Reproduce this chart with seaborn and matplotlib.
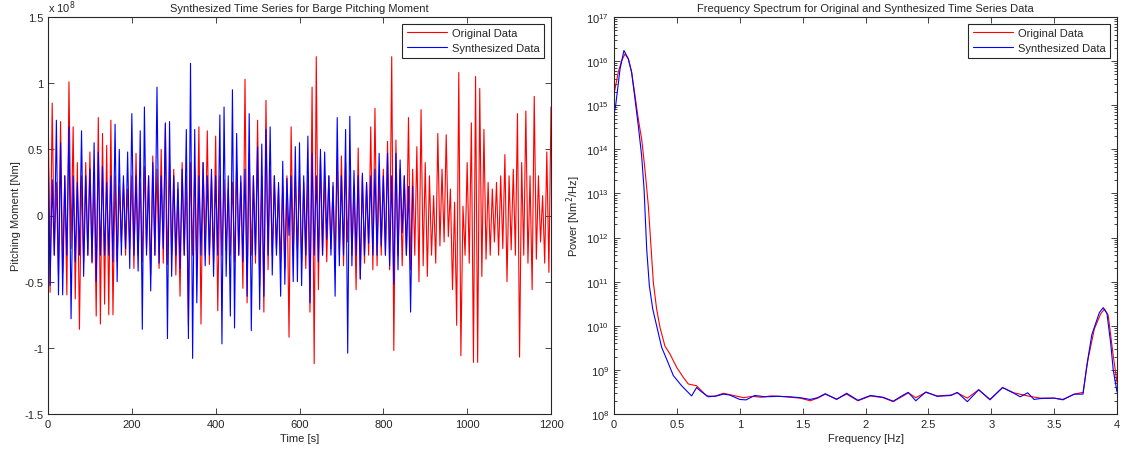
import numpy as np
import pandas as pd
import matplotlib
matplotlib.use("Agg")
import matplotlib.pyplot as plt
import matplotlib.ticker as mticker
import seaborn as sns

# Pitching moment extrema [x 1e8 Nm], one every 5 s
original_moment = [
    0.94, -0.58, 0.85, -0.3, 0.25, -0.45, 0.71, -0.43, 0.3, -0.6, 1.01, -0.25, 0.67, -0.63, 0.4, -0.86, 0.3, -0.35, 0.4, -0.3,
    0.48, -0.36, 0.3, -0.76, 0.74, -0.82, 0.62, -0.67, 0.53, -0.75, 0.72, -0.75, 0.3, -0.35, 0.22, -0.2, 0.25, -0.3, 0.2, -0.25,
    0.3, -0.4, 0.47, -0.3, 0.25, -0.35, 0.37, -0.25, 0.3, -0.45, 0.45, -0.3, 0.35, -0.4, 0.5, -0.36, 0.69, -0.37, 0.4, -0.3,
    0.35, -0.45, 0.2, -0.61, 0.4, -0.3, 0.3, -0.83, 0.4, -0.3, 0.35, -0.4, 0.67, -0.82, 0.4, -0.3, 0.64, -0.37, 0.3, -0.35,
    0.6, -0.72, 0.3, -0.3, 0.27, -0.26, 0.2, -0.3, 0.25, -0.35, 0.37, -0.3, 0.25, -0.55, 1.03, -0.66, 0.47, -0.3, 0.3, -0.36,
    0.72, -0.53, 0.3, -0.73, 0.87, -0.41, 0.35, -0.3, 0.3, -0.25, 0.22, -0.35, 0.22, -0.4, 0.3, -0.92, 0.67, -0.3, 0.3, -0.26,
    0.3, -0.35, 0.25, -0.4, 0.3, -0.73, 0.97, -1.12, 1.2, -0.56, 0.44, -0.3, 0.3, -0.35, 0.3, -0.25, 0.22, -0.33, 0.42, -0.3,
    0.45, -0.38, 0.4, -0.2, 0.3, -0.3, 0.22, -0.56, 0.51, -0.48, 0.3, -0.36, 0.25, -0.3, 0.67, -0.41, 0.81, -0.38, 0.3, -0.3,
    0.35, -0.3, 0.56, -0.41, 1.2, -1.02, 0.57, -0.3, 0.35, -0.38, 0.3, -0.3, 0.74, -0.41, 0.35, -0.3, 0.52, -0.5, 0.8, -0.38,
    0.4, -0.46, 0.3, -0.3, 0.15, -0.36, 0.62, -0.23, 0.35, -0.2, 0.61, -0.16, 0.2, -0.56, 0.1, -0.83, 1.08, -1.06, 0.07, -0.3,
    0.4, -0.36, 0.7, -1.11, 1.05, -1.11, 0.96, -0.46, 0.65, -0.33, 0.25, -0.3, 0.2, -0.2, 0.25, -0.3, 0.3, -0.25, 0.46, -0.5,
    0.3, -0.26, 0.35, -0.3, 0.77, -1.07, 0.4, -0.3, 0.79, -0.36, 0.3, -0.56, 0.9, -0.33, 0.3, -0.2, 0.15, -0.36, 0.48, -0.43,
    0.82,
]
synth_moment = [
    0.6, -0.53, 0.27, -0.3, 0.72, -0.6, 0.55, -0.6, 0.3, -0.3, 0.67, -0.78, 0.3, -0.35, 0.25, -0.3, 0.64, -0.46, 0.3, -0.3,
    0.35, -0.35, 0.55, -0.5, 0.48, -0.3, 0.37, -0.3, 0.25, -0.3, 0.3, -0.35, 0.69, -0.5, 0.5, -0.3, 0.3, -0.25, 0.48, -0.4,
    0.77, -0.3, 0.3, -0.42, 0.64, -0.86, 0.82, -0.3, 0.3, -0.57, 0.4, -0.3, 0.97, -0.36, 0.3, -0.25, 0.7, -0.93, 0.71, -0.46,
    0.3, -0.3, 0.25, -0.4, 0.35, -0.3, 0.65, -0.93, 1.15, -1.08, 0.65, -0.66, 0.3, -0.3, 0.4, -0.38, 0.3, -0.3, 0.35, -0.46,
    0.3, -0.3, 0.76, -0.97, 0.82, -0.46, 0.3, -0.76, 0.95, -0.85, 0.62, -0.3, 0.3, -0.35, 0.35, -0.61, 0.77, -0.87, 0.3, -0.3,
    0.52, -0.71, 0.54, -0.61, 0.65, -0.3, 0.67, -0.45, 0.3, -0.3, 0.25, -0.61, 0.41, -0.52, 0.28, -0.15, 0.3, -0.5, 0.52, -0.5,
    0.55, -0.53, 0.3, -0.3, 0.6, -0.66, 0.47, -0.3, 0.3, -0.35, 0.5, -0.3, 0.48, -0.18, 0.3, -0.3, 0.25, -0.61, 0.74, -0.38,
    0.3, -0.3, 0.65, -1.04, 0.75, -0.38, 0.34, -0.3, 0.3, -0.48, 0.32, -0.3, 0.25, -0.21, 0.3, -0.3, 0.35, -0.3, 0.47, -0.23,
    0.3, -0.3, 0.47, -0.38, 0.3, -0.52, 0.47, -0.41, 0.42, -0.13, 0.3, -0.3, 0.22, -0.73, 0.22,
]
sample_step = 5.0  # seconds between extrema

# Power spectra: frequency [Hz] and log10 power [Nm^2/Hz]
orig_freq = [0.0, 0.034, 0.061, 0.087, 0.114, 0.14, 0.167, 0.193, 0.22, 0.246, 0.273, 0.292, 0.313, 0.339,
             0.366, 0.405, 0.445, 0.498, 0.551, 0.591, 0.657, 0.684, 0.737, 0.80, 0.87, 0.95, 1.03, 1.10,
             1.17, 1.25, 1.33, 1.40, 1.48, 1.56, 1.62, 1.68, 1.77, 1.85, 1.94, 2.04, 2.14, 2.22, 2.30, 2.34,
             2.40, 2.48, 2.57, 2.68, 2.73, 2.81, 2.90, 2.99, 3.09, 3.18, 3.29, 3.39, 3.50, 3.57, 3.66, 3.73,
             3.77, 3.82, 3.87, 3.90, 3.93, 3.97, 4.0]
orig_logpow = [15.25, 15.75, 16.01, 16.16, 16.05, 15.75, 15.22, 14.69, 14.23, 13.55, 12.72, 11.89, 10.98, 10.38,
               9.96, 9.54, 9.36, 9.06, 8.83, 8.68, 8.64, 8.56, 8.41, 8.40, 8.47, 8.42, 8.37, 8.40,
               8.38, 8.41, 8.40, 8.38, 8.36, 8.30, 8.36, 8.45, 8.34, 8.45, 8.30, 8.41, 8.37, 8.28, 8.41, 8.48,
               8.37, 8.49, 8.41, 8.43, 8.48, 8.36, 8.55, 8.32, 8.60, 8.48, 8.41, 8.36, 8.36, 8.32, 8.45, 8.49,
               9.25, 9.93, 10.27, 10.38, 10.24, 9.32, 8.72]
synth_freq = [0.0, 0.013, 0.048, 0.079, 0.114, 0.14, 0.167, 0.193, 0.22, 0.239, 0.26, 0.281, 0.308, 0.339,
              0.379, 0.419, 0.472, 0.538, 0.617, 0.657, 0.684, 0.75, 0.817, 0.87, 0.92, 1.0, 1.05, 1.12,
              1.2, 1.3, 1.4, 1.48, 1.56, 1.62, 1.68, 1.77, 1.85, 1.94, 2.04, 2.14, 2.22, 2.30, 2.34, 2.40,
              2.48, 2.57, 2.68, 2.73, 2.81, 2.90, 2.99, 3.09, 3.18, 3.23, 3.29, 3.34, 3.39, 3.50, 3.57, 3.66,
              3.73, 3.76, 3.80, 3.86, 3.89, 3.92, 3.95, 3.97, 4.0]
synth_logpow = [14.80, 14.99, 15.82, 16.24, 16.05, 15.75, 15.14, 14.54, 13.85, 13.10, 11.74, 10.91, 10.38, 10.0,
                9.51, 9.24, 8.87, 8.64, 8.41, 8.60, 8.53, 8.39, 8.41, 8.45, 8.43, 8.33, 8.32, 8.42,
                8.39, 8.40, 8.39, 8.37, 8.33, 8.37, 8.46, 8.33, 8.47, 8.31, 8.42, 8.38, 8.29, 8.43, 8.49, 8.30,
                8.50, 8.40, 8.42, 8.49, 8.28, 8.55, 8.33, 8.60, 8.47, 8.39, 8.48, 8.33, 8.35, 8.36, 8.33, 8.45,
                8.45, 9.10, 9.80, 10.30, 10.41, 10.28, 9.60, 9.00, 8.50]

ts = pd.concat([
    pd.DataFrame({"time": np.arange(len(original_moment)) * sample_step,
                  "moment": original_moment, "series": "Original Data"}),
    pd.DataFrame({"time": np.arange(len(synth_moment)) * sample_step,
                  "moment": synth_moment, "series": "Synthesized Data"}),
])
spec = pd.concat([
    pd.DataFrame({"freq": orig_freq, "power": 10.0 ** np.array(orig_logpow), "series": "Original Data"}),
    pd.DataFrame({"freq": synth_freq, "power": 10.0 ** np.array(synth_logpow), "series": "Synthesized Data"}),
])

sns.set_style("ticks")
plt.rcParams["font.family"] = ["Liberation Sans", "DejaVu Sans"]
plt.rcParams["font.size"] = 8
plt.rcParams["xtick.direction"] = "in"
plt.rcParams["ytick.direction"] = "in"
plt.rcParams["axes.edgecolor"] = "#262626"

palette = {"Original Data": "#ff0000", "Synthesized Data": "#0000ff"}

fig = plt.figure(figsize=(11.3, 4.52), dpi=100)
ax1 = fig.add_axes([48 / 1130, 37 / 452, 503 / 1130, 397 / 452])
ax2 = fig.add_axes([614 / 1130, 37 / 452, 503 / 1130, 397 / 452])

# Left: time series
sns.lineplot(data=ts, x="time", y="moment", hue="series", palette=palette,
             estimator=None, sort=False, linewidth=0.8, ax=ax1)
ax1.set_xlim(0, 1200)
ax1.set_ylim(-1.5, 1.5)
ax1.set_xticks(np.arange(0, 1201, 200))
ax1.set_yticks(np.arange(-1.5, 1.51, 0.5))
ax1.yaxis.set_major_formatter(mticker.FormatStrFormatter("%g"))
ax1.set_title("Synthesized Time Series for Barge Pitching Moment", fontsize=8, pad=4)
ax1.set_xlabel("Time [s]", labelpad=3)
ax1.set_ylabel("Pitching Moment [Nm]", labelpad=2)
ax1.text(0.0, 1.005, r"x 10$^8$", transform=ax1.transAxes, fontsize=8, ha="left", va="bottom")

# Right: frequency spectrum
sns.lineplot(data=spec, x="freq", y="power", hue="series", palette=palette,
             estimator=None, sort=False, linewidth=0.8, ax=ax2)
ax2.set_yscale("log")
ax2.set_xlim(0, 4)
ax2.set_ylim(1e8, 1e17)
ax2.set_xticks(np.arange(0, 4.01, 0.5))
ax2.xaxis.set_major_formatter(mticker.FormatStrFormatter("%g"))
ax2.yaxis.set_major_locator(mticker.LogLocator(base=10, numticks=20))
ax2.yaxis.set_minor_locator(mticker.LogLocator(base=10, subs=np.arange(2, 10), numticks=20))
ax2.yaxis.set_minor_formatter(mticker.NullFormatter())
ax2.set_title("Frequency Spectrum for Original and Synthesized Time Series Data", fontsize=8, pad=4)
ax2.set_xlabel("Frequency [Hz]", labelpad=3)
ax2.set_ylabel(r"Power [Nm$^2$/Hz]", labelpad=2)

for ax in (ax1, ax2):
    ax.tick_params(which="both", top=True, right=True, labelsize=8, width=0.6)
    ax.tick_params(which="major", length=4)
    ax.tick_params(which="minor", length=2)
    for s in ax.spines.values():
        s.set_linewidth(0.8)
    leg = ax.legend(loc="upper right", fontsize=8, frameon=True, fancybox=False,
                    edgecolor="#262626", framealpha=1, borderpad=0.4,
                    handlelength=3.6, handletextpad=0.5, labelspacing=0.45,
                    borderaxespad=0.6)
    leg.get_frame().set_linewidth(0.8)

fig.savefig("out.png", dpi=100, facecolor="white")
